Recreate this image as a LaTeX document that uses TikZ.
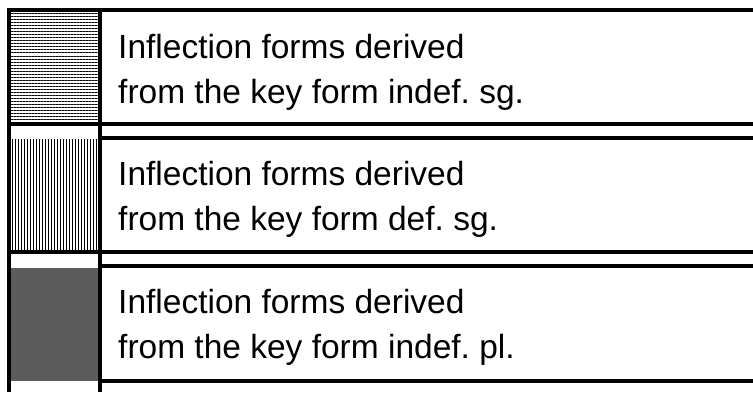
\documentclass[tikz,border=0pt]{standalone}
\usepackage{fontspec}
\setmainfont{Liberation Sans}
\frenchspacing
\usetikzlibrary{patterns.meta}
\begin{document}
\begin{tikzpicture}[x=1pt,y=-1pt,
  rule/.style={line width=3.2pt,line cap=butt},
  legendtext/.style={anchor=base west,inner sep=0pt,font=\fontsize{33.5}{40}\selectfont},
  hlines/.style={pattern={Lines[angle=0,distance=3pt,line width=1pt]},pattern color=black},
  vlines/.style={pattern={Lines[angle=90,distance=3pt,line width=1pt]},pattern color=black},
  dotfill/.style={fill=black!68},
  dotover/.style={pattern={Dots[distance=2pt,radius=0.45pt]},pattern color=white!80!black}]
\useasboundingbox (0,0) rectangle (753,392);

% swatches
\path[hlines] (10.5,11.5) rectangle (98.5,122.5);
\path[vlines] (10.5,139.5) rectangle (98.5,250.5);
\path[dotfill] (10.5,267.5) rectangle (98.5,380.5);
\path[dotover] (10.5,267.5) rectangle (98.5,380.5);

% frame and row rules
\draw[rule] (9,9) -- (9,392);
\draw[rule] (100,9) -- (100,392);
\draw[rule] (7.4,10) -- (753,10);
\draw[rule] (7.4,124) -- (753,124);
\draw[rule] (100,138) -- (753,138);
\draw[rule] (7.4,252) -- (753,252);
\draw[rule] (100,266) -- (753,266);
\draw[rule] (100,381) -- (753,381);

% legend texts
\node[legendtext] (a1) at (118,58) {Inflection forms derived};
\node[legendtext] (a2) at (118,103) {from the key form indef. sg.};
\node[legendtext] (b1) at (118,185) {Inflection forms derived};
\node[legendtext] (b2) at (118,230) {from the key form def. sg.};
\node[legendtext] (c1) at (118,313) {Inflection forms derived};
\node[legendtext] (c2) at (118,358) {from the key form indef. pl.};
\end{tikzpicture}
\end{document}
